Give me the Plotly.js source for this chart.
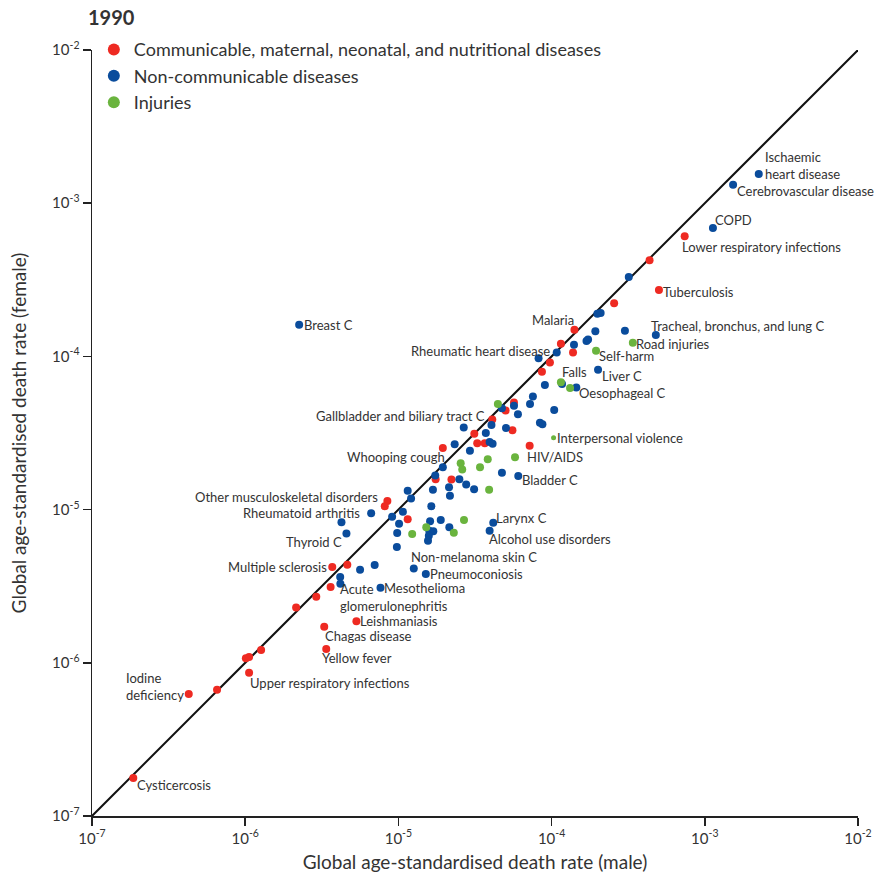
<!DOCTYPE html>
<html>
<head>
<meta charset="utf-8">
<script src="https://cdn.plot.ly/plotly-3.0.1.min.js"></script>
<style>html,body{margin:0;padding:0;background:#fff;}#chart{width:875px;height:875px;}</style>
</head>
<body>
<div id="chart"></div>
<script>
// ---------- DATA ----------
const chartTitle = '1990';
const categories = ['Communicable, maternal, neonatal, and nutritional diseases', 'Non-communicable diseases', 'Injuries'];

const commNames = ['Lower respiratory infections','','Tuberculosis','','Malaria','','','','','','','','','','','','Whooping cough','','','','Other musculoskeletal disorders','','','','Multiple sclerosis','Acute glomerulonephritis','','','Leishmaniasis','Chagas disease','Yellow fever','','','','Upper respiratory infections','','Iodine deficiency','Cysticercosis'];
const commMale = [7.39e-4,4.36e-4,5.02e-4,2.56e-4,1.41e-4,1.15e-4,1.38e-4,9.75e-5,8.65e-5,5.68e-5,5.01e-5,4.10e-5,5.55e-5,3.13e-5,3.27e-5,3.66e-5,1.95e-5,7.19e-5,1.75e-5,2.22e-5,8.47e-6,8.15e-6,1.15e-5,4.64e-6,3.70e-6,3.61e-6,2.91e-6,2.15e-6,5.32e-6,3.28e-6,3.38e-6,1.27e-6,1.01e-6,1.06e-6,1.06e-6,6.55e-7,4.28e-7,1.86e-7];
const commFemale = [6.08e-4,4.24e-4,2.71e-4,2.22e-4,1.49e-4,1.21e-4,1.06e-4,9.12e-5,7.94e-5,5.00e-5,4.43e-5,3.88e-5,3.30e-5,3.13e-5,2.71e-5,2.71e-5,2.52e-5,2.61e-5,1.58e-5,1.57e-5,1.14e-5,1.05e-5,8.65e-6,4.36e-6,4.22e-6,3.13e-6,2.70e-6,2.30e-6,1.87e-6,1.72e-6,1.23e-6,1.21e-6,1.07e-6,1.09e-6,8.61e-7,6.67e-7,6.25e-7,1.77e-7];

const ncdNames = ['Ischaemic heart disease','Cerebrovascular disease','COPD','','','','','','Tracheal, bronchus, and lung C','','','','','Rheumatic heart disease','Liver C','','Oesophageal C','','','','','','','','','','Gallbladder and biliary tract C','','','','','','','','','','Bladder C','','','','','','','','','','','Rheumatoid arthritis','','','','','','','Thyroid C','','','','','','','Larynx C','Alcohol use disorders','','','','Non-melanoma skin C','Pneumoconiosis','','','Mesothelioma','Breast C'];
const ncdMale = [2.25e-3,1.53e-3,1.13e-3,3.19e-4,1.99e-4,2.09e-4,1.93e-4,3.01e-4,4.79e-4,1.40e-4,1.69e-4,1.73e-4,1.08e-4,8.22e-5,2.01e-4,1.17e-4,1.45e-4,9.04e-5,7.55e-5,7.23e-5,4.74e-5,5.68e-5,6.03e-5,1.04e-4,8.39e-5,8.71e-5,4.05e-5,3.72e-5,5.04e-5,2.67e-5,3.94e-5,4.12e-5,2.33e-5,2.93e-5,1.95e-5,4.74e-5,6.06e-5,1.74e-5,2.50e-5,2.77e-5,3.12e-5,1.68e-5,2.14e-5,2.17e-5,1.15e-5,1.21e-5,1.64e-5,6.64e-6,1.07e-5,9.10e-6,1.01e-5,1.61e-5,1.89e-5,4.25e-6,4.58e-6,9.82e-6,1.59e-5,1.69e-5,2.15e-5,1.58e-5,1.56e-5,4.16e-5,3.94e-5,9.77e-6,5.62e-6,7.00e-6,1.26e-5,1.51e-5,4.17e-6,4.18e-6,7.64e-6,2.25e-6];
const ncdFemale = [1.55e-3,1.32e-3,6.89e-4,3.30e-4,1.90e-4,1.92e-4,1.46e-4,1.47e-4,1.38e-4,1.19e-4,1.26e-4,1.29e-4,1.06e-4,9.72e-5,8.18e-5,6.61e-5,6.27e-5,6.50e-5,5.47e-5,4.89e-5,4.58e-5,4.77e-5,4.19e-5,4.47e-5,3.69e-5,3.61e-5,3.56e-5,3.16e-5,3.41e-5,3.43e-5,2.76e-5,2.69e-5,2.67e-5,2.42e-5,1.89e-5,1.74e-5,1.66e-5,1.67e-5,1.58e-5,1.46e-5,1.36e-5,1.35e-5,1.40e-5,1.23e-5,1.33e-5,1.18e-5,1.05e-5,9.46e-6,9.68e-6,8.99e-6,8.09e-6,8.40e-6,8.55e-6,8.26e-6,6.97e-6,7.03e-6,7.28e-6,7.21e-6,7.66e-6,6.76e-6,6.27e-6,8.20e-6,7.28e-6,5.70e-6,4.05e-6,4.35e-6,4.13e-6,3.80e-6,3.63e-6,3.28e-6,3.09e-6,1.61e-4];

const injNames = ['Road injuries','Self-harm','Falls','','','Interpersonal violence','HIV/AIDS','','','','','','','','',''];
const injMale = [3.39e-4,1.95e-4,1.15e-4,1.32e-4,4.46e-5,1.03e-4,5.77e-5,2.55e-5,2.61e-5,3.83e-5,3.41e-5,3.91e-5,2.68e-5,1.52e-5,1.23e-5,2.30e-5];
const injFemale = [1.23e-4,1.09e-4,6.79e-5,6.22e-5,4.89e-5,2.94e-5,2.20e-5,2.01e-5,1.83e-5,2.13e-5,1.89e-5,1.35e-5,8.55e-6,7.66e-6,6.94e-6,7.06e-6];

const tickValues = [1e-7, 1e-6, 1e-5, 1e-4, 1e-3, 1e-2];
const tickLabels = ['10<sup>-7</sup>','10<sup>-6</sup>','10<sup>-5</sup>','10<sup>-4</sup>','10<sup>-3</sup>','10<sup>-2</sup>'];
const xTitle = 'Global age-standardised death rate (male)';
const yTitle = 'Global age-standardised death rate (female)';

// ---------- STYLE ----------
const FONT = 'Lato, "Open Sans", sans-serif';
const TXT = '#333333';
const colors = ['#ee2a22', '#0a4c9c', '#6ab43e'];

// label placement (pixels): anchor side, dx (right +), dy (up +), optional display text
const labelStyle = {
  'Ischaemic heart disease': {a:'left', dx:5, dy:9, t:'Ischaemic<br>heart disease'},
  'Cerebrovascular disease': {a:'left', dx:3, dy:-6},
  'COPD': {a:'left', dx:1, dy:8},
  'Lower respiratory infections': {a:'left', dx:-4, dy:-11},
  'Tuberculosis': {a:'left', dx:3, dy:-2},
  'Tracheal, bronchus, and lung C': {a:'left', dx:-6, dy:9},
  'Road injuries': {a:'left', dx:2, dy:-1},
  'Malaria': {a:'right', dx:1, dy:10},
  'Rheumatic heart disease': {a:'right', dx:12, dy:7},
  'Self-harm': {a:'left', dx:2, dy:-5},
  'Liver C': {a:'left', dx:3, dy:-6},
  'Falls': {a:'left', dx:0, dy:10},
  'Oesophageal C': {a:'left', dx:2, dy:-6},
  'Gallbladder and biliary tract C': {a:'right', dx:-5, dy:9},
  'Interpersonal violence': {a:'left', dx:2, dy:0},
  'Whooping cough': {a:'right', dx:3, dy:-9},
  'HIV/AIDS': {a:'left', dx:11, dy:0},
  'Bladder C': {a:'left', dx:3, dy:-4},
  'Breast C': {a:'left', dx:4, dy:0},
  'Other musculoskeletal disorders': {a:'right', dx:-8, dy:4},
  'Rheumatoid arthritis': {a:'right', dx:-10, dy:0},
  'Thyroid C': {a:'right', dx:-3, dy:-8},
  'Larynx C': {a:'left', dx:2, dy:5},
  'Alcohol use disorders': {a:'left', dx:-2, dy:-8},
  'Multiple sclerosis': {a:'right', dx:-4, dy:0},
  'Non-melanoma skin C': {a:'left', dx:-4, dy:11},
  'Pneumoconiosis': {a:'left', dx:3, dy:0},
  'Mesothelioma': {a:'left', dx:3, dy:0},
  'Acute glomerulonephritis': {a:'left', dx:8, dy:-11, t:'Acute<br>glomerulonephritis'},
  'Leishmaniasis': {a:'left', dx:3, dy:0},
  'Chagas disease': {a:'left', dx:0, dy:-9},
  'Yellow fever': {a:'left', dx:-5, dy:-9},
  'Upper respiratory infections': {a:'left', dx:0, dy:-10},
  'Iodine deficiency': {a:'right', dx:-4, dy:8, t:'Iodine<br>deficiency'},
  'Cysticercosis': {a:'left', dx:3, dy:-7}
};

const groups = [
  {name: categories[0], names: commNames, x: commMale, y: commFemale, color: colors[0]},
  {name: categories[1], names: ncdNames, x: ncdMale, y: ncdFemale, color: colors[1]},
  {name: categories[2], names: injNames, x: injMale, y: injFemale, color: colors[2]}
];

const traces = [{
  x: [tickValues[0], tickValues[tickValues.length - 1]],
  y: [tickValues[0], tickValues[tickValues.length - 1]],
  mode: 'lines', line: {color: '#111', width: 2}, showlegend: false, hoverinfo: 'skip'
}];
const annotations = [];
groups.forEach(g => {
  traces.push({
    x: g.x, y: g.y, text: g.names, mode: 'markers', type: 'scatter', name: g.name,
    marker: {color: g.color, opacity: 1, size: g.names.map(n => n === 'Interpersonal violence' ? 5 : 8), line: {width: 0}}
  });
  g.names.forEach((n, i) => {
    if (!n) return;
    const s = labelStyle[n] || {a:'left', dx:3, dy:0};
    annotations.push({
      x: Math.log10(g.x[i]), y: Math.log10(g.y[i]), xref: 'x', yref: 'y',
      text: s.t || n, showarrow: false, xanchor: s.a, yanchor: 'middle', align: 'left',
      xshift: s.dx, yshift: s.dy, borderpad: 0,
      font: {family: FONT, size: 13, color: TXT}
    });
  });
});

const axisCommon = {
  type: 'log', range: [-7, -2], tickvals: tickValues, ticktext: tickLabels,
  ticks: 'outside', ticklen: 8, tickwidth: 1.5, tickcolor: '#222',
  showline: true, linecolor: '#222', linewidth: 1.5, showgrid: false, zeroline: false,
  tickfont: {family: FONT, size: 15, color: TXT}, automargin: false, fixedrange: true
};

const layout = {
  width: 875, height: 875,
  margin: {l: 92, r: 17, t: 50, b: 59},
  paper_bgcolor: '#fff', plot_bgcolor: '#fff',
  font: {family: FONT, color: TXT},
  title: {text: '<b>' + chartTitle + '</b>', x: 88/875, xanchor: 'left', xref: 'container', y: 1 - 18/875, yanchor: 'middle', yref: 'container', font: {family: FONT, size: 20, color: TXT}},
  xaxis: Object.assign({}, axisCommon, {title: {text: xTitle, font: {family: FONT, size: 19, color: TXT}, standoff: 10}}),
  yaxis: Object.assign({}, axisCommon, {title: {text: yTitle, font: {family: FONT, size: 19, color: TXT}, standoff: 20}}),
  showlegend: true,
  legend: {x: 0.0024, y: 1.0245, xanchor: 'left', yanchor: 'top', bgcolor: 'rgba(0,0,0,0)', borderwidth: 0,
    font: {family: FONT, size: 18, color: TXT}, itemsizing: 'constant', itemwidth: 30, tracegroupgap: 0},
  annotations: annotations,
  hovermode: false
};

Plotly.newPlot('chart', traces, layout, {displayModeBar: false, staticPlot: true});
</script>
</body>
</html>
